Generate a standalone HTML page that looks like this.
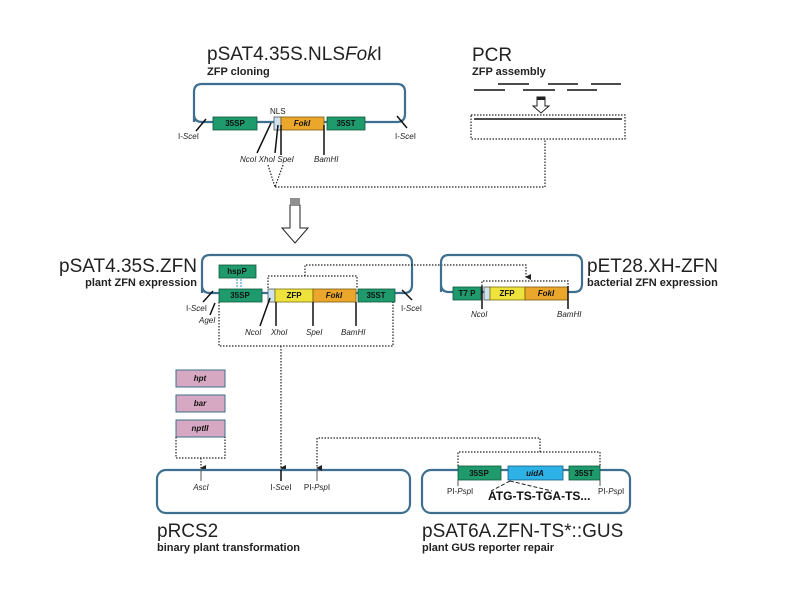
<!DOCTYPE html>
<html><head><meta charset="utf-8"><style>
html,body{margin:0;padding:0;background:#fff;}
svg{display:block;font-family:"Liberation Sans",sans-serif;}
.bb{fill:none;stroke:#3e6f8e;stroke-width:2.2;}
.t{font-size:19px;fill:#222;}
.s{font-size:11px;font-weight:bold;fill:#222;}
.l{font-size:8px;fill:#222;}
.li{font-size:8px;font-style:italic;fill:#222;}
.bx{font-size:8px;font-weight:bold;fill:#111;text-anchor:middle;}
.dot{fill:none;stroke:#222;stroke-width:1.2;stroke-dasharray:1.5 1.5;}
.g{fill:#1f9a6c;stroke:#0d5a3c;stroke-width:0.8;}
.o{fill:#eba72c;stroke:#7a5a10;stroke-width:0.8;}
.y{fill:#eee23c;stroke:#7a7010;stroke-width:0.8;}
.lb{fill:#cfe2f0;stroke:#555;stroke-width:0.8;}
.p{fill:#d6a8c2;stroke:#3e6f8e;stroke-width:1;}
.c{fill:#2cb2e6;stroke:#1a5a80;stroke-width:0.8;}
.k{stroke:#111;stroke-width:1.5;}
</style></head><body>
<svg width="794" height="595" viewBox="0 0 794 595">
<defs><marker id="a" markerWidth="6" markerHeight="6" refX="3" refY="5" orient="auto" markerUnits="userSpaceOnUse"><path d="M0,0 L6,0 L3,6z" fill="#222"/></marker></defs>

<!-- Top left plasmid -->
<text x="207" y="60" class="t">pSAT4.35S.NLS<tspan font-style="italic">Fok</tspan>I</text>
<text x="207" y="75" class="s">ZFP cloning</text>
<path class="bb" d="M194,122 V92 Q194,84 202,84 H397 Q405,84 405,92 V114 Q405,122 397,122 H202 Q194,122 194,114"/>
<line x1="196" y1="131" x2="206" y2="119" class="k" stroke-width="1"/>
<line x1="397" y1="116" x2="407" y2="128" class="k" stroke-width="1"/>
<rect x="213" y="117" width="44" height="13" class="g"/><text x="235" y="126" class="bx">35SP</text>
<rect x="274" y="117" width="7" height="13" class="lb"/>
<rect x="281" y="117" width="43" height="13" class="o"/><text x="302" y="126" class="bx" font-style="italic">FokI</text>
<rect x="327" y="117" width="38" height="13" class="g"/><text x="346" y="126" class="bx">35ST</text>
<text x="270" y="114" class="l">NLS</text>
<text x="178" y="139" class="l">I-<tspan font-style="italic">Sce</tspan>I</text>
<text x="395" y="139" class="l">I-<tspan font-style="italic">Sce</tspan>I</text>
<line x1="271" y1="123" x2="257" y2="153" class="k" stroke-width="1"/>
<line x1="278" y1="125" x2="275" y2="153" class="k" stroke-width="1"/>
<line x1="281" y1="125" x2="281" y2="155" class="k"/>
<line x1="324" y1="125" x2="324" y2="155" class="k"/>
<text x="240" y="162" class="li">NcoI XhoI SpeI</text>
<text x="314" y="162" class="li">BamHI</text>
<path class="dot" d="M268,165 L275,187 L283,165"/>
<path class="dot" d="M275,187 H545 V140"/>

<!-- PCR -->
<text x="472" y="61" class="t">PCR</text>
<text x="472" y="75" class="s">ZFP assembly</text>
<g class="k" stroke-width="1.3">
<line x1="498" y1="84" x2="529" y2="84"/><line x1="548" y1="84" x2="578" y2="84"/><line x1="591" y1="84" x2="621" y2="84"/>
<line x1="474" y1="90" x2="505" y2="90"/><line x1="523" y1="90" x2="555" y2="90"/><line x1="567" y1="90" x2="597" y2="90"/>
<line x1="474" y1="119" x2="622" y2="119"/>
</g>
<path d="M537,97 H545 V106 H549 L541,113 L533,106 H537Z" fill="#fff" stroke="#222" stroke-width="1"/>
<rect x="537" y="97" width="8" height="3" fill="#222"/>
<rect x="471" y="115" width="154" height="24" class="dot"/>

<!-- Big arrow -->
<path d="M290,205 H300 V228 H308 L295,243 L282,228 H290Z" fill="#fff" stroke="#222" stroke-width="1"/>
<g stroke="#222" stroke-width="1"><line x1="290" y1="199" x2="300" y2="199"/><line x1="290" y1="201" x2="300" y2="201"/><line x1="290" y1="203" x2="300" y2="203"/></g>

<!-- pSAT4.35S.ZFN -->
<text x="197" y="272" class="t" text-anchor="end">pSAT4.35S.ZFN</text>
<text x="197" y="286" class="s" text-anchor="end" font-size="10">plant ZFN expression</text>
<path class="bb" d="M202,293 V263 Q202,255 210,255 H404 Q412,255 412,263 V285 Q412,293 404,293 H210 Q202,293 202,285"/>
<line x1="203" y1="302" x2="213" y2="291" class="k" stroke-width="1"/>
<line x1="402" y1="290" x2="412" y2="300" class="k" stroke-width="1"/>
<rect x="219" y="265" width="37" height="13" class="g"/><text x="237" y="274" class="bx">hspP</text>
<path d="M237,279 V287 M241,279 V287" stroke="#4aa0d0" stroke-width="1.2" stroke-dasharray="2 1"/>
<rect x="219" y="289" width="43" height="13" class="g"/><text x="240" y="298" class="bx">35SP</text>
<rect x="268" y="289" width="7" height="13" class="lb"/>
<rect x="275" y="289" width="38" height="13" class="y"/><text x="294" y="298" class="bx">ZFP</text>
<rect x="313" y="289" width="43" height="13" class="o"/><text x="334" y="298" class="bx" font-style="italic">FokI</text>
<rect x="358" y="289" width="37" height="13" class="g"/><text x="376" y="298" class="bx">35ST</text>
<text x="186" y="311" class="l">I-<tspan font-style="italic">Sce</tspan>I</text>
<text x="199" y="323" class="li">AgeI</text>
<line x1="215" y1="303" x2="210" y2="315" class="k" stroke-width="1"/>
<text x="401" y="311" class="l">I-<tspan font-style="italic">Sce</tspan>I</text>
<line x1="270" y1="298" x2="260" y2="326" class="k" stroke-width="1"/>
<line x1="276" y1="302" x2="276" y2="326" class="k" stroke-width="1"/>
<line x1="313" y1="302" x2="313" y2="326" class="k" stroke-width="1"/>
<line x1="356" y1="302" x2="356" y2="326" class="k" stroke-width="1"/>
<text x="245" y="335" class="li">NcoI</text><text x="271" y="335" class="li">XhoI</text>
<text x="306" y="335" class="li">SpeI</text><text x="341" y="335" class="li">BamHI</text>
<path class="dot" d="M268,288 V276 H357 V288"/>
<path class="dot" d="M305,276 V265 H526 V277" marker-end="url(#a)"/>
<path class="dot" d="M219,302 V346 H393 V302"/>
<path class="dot" d="M281,346 V468" marker-end="url(#a)"/>

<!-- pET28 -->
<path class="bb" d="M441,292 V263 Q441,255 449,255 H574 Q582,255 582,263 V284 Q582,292 574,292 H449 Q441,292 441,284"/>
<rect x="453" y="287" width="28" height="13" class="g"/><text x="467" y="296" class="bx">T7 P</text>
<rect x="484" y="287" width="6" height="13" class="lb"/>
<rect x="490" y="287" width="35" height="13" class="y"/><text x="507" y="296" class="bx">ZFP</text>
<rect x="525" y="287" width="43" height="13" class="o"/><text x="546" y="296" class="bx" font-style="italic">FokI</text>
<line x1="482" y1="286" x2="482" y2="309" class="k" stroke-width="1"/>
<line x1="568" y1="286" x2="568" y2="309" class="k" stroke-width="1"/>
<path class="dot" d="M482,286 V281 H568 V286"/>
<text x="471" y="317" class="li">NcoI</text><text x="557" y="317" class="li">BamHI</text>
<text x="587" y="272" class="t">pET28.XH-ZFN</text>
<text x="587" y="286" class="s" font-size="10">bacterial <tspan>ZFN</tspan> expression</text>

<!-- markers -->
<rect x="176" y="370" width="49" height="17" class="p"/><text x="200" y="381" class="bx" font-style="italic">hpt</text>
<rect x="176" y="395" width="49" height="17" class="p"/><text x="200" y="406" class="bx" font-style="italic">bar</text>
<rect x="176" y="420" width="49" height="17" class="p"/><text x="200" y="431" class="bx" font-style="italic">nptII</text>
<path class="dot" d="M176,437 V458 H225 V437"/>
<path class="dot" d="M201,458 V468" marker-end="url(#a)"/>

<!-- pRCS2 -->
<rect x="157" y="470" width="253" height="43" rx="9" class="bb"/>
<line x1="201" y1="470" x2="201" y2="481" stroke="#555" stroke-width="1"/>
<line x1="281" y1="470" x2="281" y2="481" class="k"/>
<line x1="317" y1="470" x2="317" y2="481" stroke="#555" stroke-width="1"/>
<text x="201" y="490" class="li" text-anchor="middle">AscI</text>
<text x="281" y="490" class="l" text-anchor="middle">I-<tspan font-style="italic">Sce</tspan>I</text>
<text x="317" y="490" class="l" text-anchor="middle">PI-<tspan font-style="italic">Psp</tspan>I</text>
<path class="dot" d="M540,452 V438 H317 V468" marker-end="url(#a)"/>
<text x="157" y="537" class="t">pRCS2</text>
<text x="157" y="551" class="s" font-size="10">binary plant transformation</text>

<!-- pSAT6A -->
<rect x="422" y="470" width="208" height="43" rx="9" class="bb"/>
<path class="dot" d="M458,466 V452 H600 V466"/>
<rect x="458" y="466" width="43" height="14" class="g"/><text x="479" y="476" class="bx">35SP</text>
<rect x="508" y="466" width="55" height="14" class="c"/><text x="535" y="476" class="bx" font-style="italic">uidA</text>
<rect x="569" y="466" width="31" height="14" class="g"/><text x="584" y="476" class="bx">35ST</text>
<line x1="458" y1="480" x2="458" y2="486" stroke="#555"/>
<line x1="600" y1="480" x2="600" y2="486" stroke="#555"/>
<path d="M510,481 L491,491 M510,481 L552,491" stroke="#222" stroke-width="1" stroke-dasharray="4 2" fill="none"/>
<text x="447" y="494" class="l">PI-<tspan font-style="italic">Psp</tspan>I</text>
<text x="598" y="494" class="l">PI-<tspan font-style="italic">Psp</tspan>I</text>
<text x="488" y="500" font-size="12" font-weight="bold" fill="#111">ATG-TS-TGA-TS...</text>
<text x="422" y="537" class="t">pSAT6A.ZFN-TS*::GUS</text>
<text x="422" y="551" class="s" font-size="10">plant GUS reporter repair</text>
</svg>
</body></html>
